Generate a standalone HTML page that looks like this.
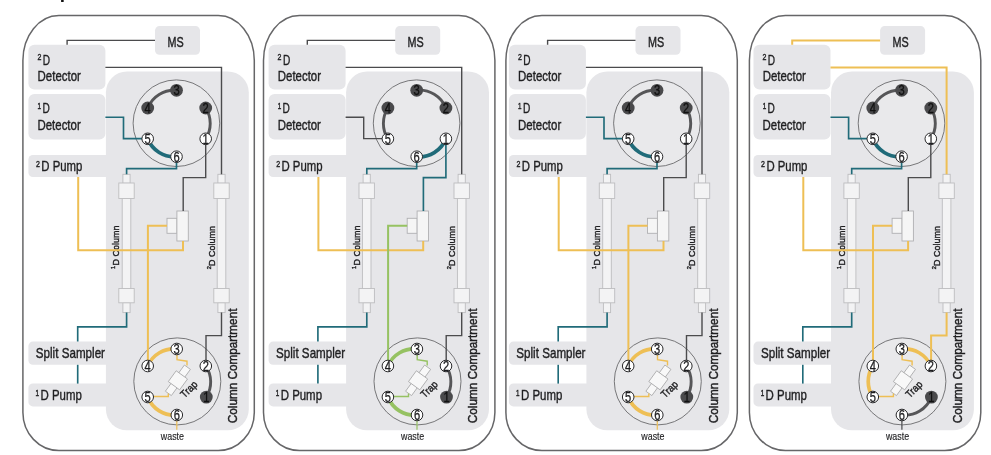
<!DOCTYPE html>
<html lang="en"><head><meta charset="utf-8"><title>2D-LC valve schematic</title>
<style>html,body{margin:0;padding:0;background:#fff}body{width:991px;height:455px;overflow:hidden;font-family:"Liberation Sans", sans-serif}svg{display:block;filter:blur(0.35px)}</style>
</head><body>
<svg width="991" height="455" viewBox="0 0 991 455" font-family='"Liberation Sans", sans-serif'>
<rect width="991" height="455" fill="#fff"/>
<text x="59.8" y="-1.7" font-size="19" font-weight="bold" fill="#111">p</text>
<g transform="translate(0.0 0)">
<path d="M58.9,15.6 H218.3 A36,45 0 0 1 254.3,60.6 V412.5 A36,38 0 0 1 218.3,450.5 H58.9 A36,38 0 0 1 22.9,412.5 V60.6 A36,45 0 0 1 58.9,15.6 Z" fill="#fff" stroke="#666668" stroke-width="1.5"/>
<g fill="#e6e6e9">
<rect x="155" y="26.1" width="45" height="28.6" rx="4.5"/>
<rect x="28.4" y="44.8" width="77" height="44.8" rx="6"/>
<rect x="28.4" y="93.9" width="77" height="45.5" rx="6"/>
<rect x="28.4" y="155" width="100" height="22" rx="4.5"/>
<rect x="28.4" y="341.6" width="100" height="23.2" rx="4.5"/>
<rect x="28.4" y="383.5" width="100" height="22.9" rx="4.5"/>
<rect x="105.9" y="71.5" width="142.9" height="358.8" rx="21"/>
</g>
<circle cx="176.4" cy="123.2" r="43.3" fill="#e9e9eb" stroke="#6a6a6c" stroke-width="0.9"/>
<circle cx="177.3" cy="381.4" r="43.5" fill="#e9e9eb" stroke="#6a6a6c" stroke-width="0.9"/>
<rect x="122.2" y="198" width="8.6" height="91" fill="#f3f3f4" stroke="#bdbdbf" stroke-width="0.9"/><rect x="122.9" y="174.3" width="7.2" height="9" fill="#f3f3f4" stroke="#bdbdbf" stroke-width="0.9"/><rect x="122.9" y="302.6" width="7.2" height="10" fill="#f3f3f4" stroke="#bdbdbf" stroke-width="0.9"/><rect x="118.8" y="183" width="15.4" height="15.5" fill="#f3f3f4" stroke="#bdbdbf" stroke-width="0.9"/><rect x="118.8" y="288.5" width="15.4" height="14.3" fill="#f3f3f4" stroke="#bdbdbf" stroke-width="0.9"/>
<rect x="217.2" y="198" width="8.6" height="91" fill="#f3f3f4" stroke="#bdbdbf" stroke-width="0.9"/><rect x="217.9" y="174.3" width="7.2" height="9" fill="#f3f3f4" stroke="#bdbdbf" stroke-width="0.9"/><rect x="217.9" y="302.6" width="7.2" height="10" fill="#f3f3f4" stroke="#bdbdbf" stroke-width="0.9"/><rect x="213.8" y="183" width="15.4" height="15.5" fill="#f3f3f4" stroke="#bdbdbf" stroke-width="0.9"/><rect x="213.8" y="288.5" width="15.4" height="14.3" fill="#f3f3f4" stroke="#bdbdbf" stroke-width="0.9"/>
<rect x="167" y="218.3" width="10" height="15" fill="#f5f5f5" stroke="#b0b0b2" stroke-width="0.9"/>
<rect x="176.9" y="211" width="11.4" height="30" fill="#f5f5f5" stroke="#b0b0b2" stroke-width="0.9"/>
<text transform="translate(115.4 268.9) rotate(-90)" font-size="5.6" fill="#1f1f21" stroke="#1f1f21" stroke-width="0.4">1</text>
<text transform="translate(119.4 265.6) rotate(-90)" font-size="9.2" textLength="40.0" lengthAdjust="spacingAndGlyphs" fill="#1f1f21" stroke="#1f1f21" stroke-width="0.4">D Column</text>
<text transform="translate(210.5 269.3) rotate(-90)" font-size="5.6" fill="#1f1f21" stroke="#1f1f21" stroke-width="0.4">2</text>
<text transform="translate(214.5 266.0) rotate(-90)" font-size="9.2" textLength="40.0" lengthAdjust="spacingAndGlyphs" fill="#1f1f21" stroke="#1f1f21" stroke-width="0.4">D Column</text>
<path d="M67.1,44.8 V40.4 H155" fill="none" stroke="#4b4b4d" stroke-width="1.4" stroke-linejoin="miter"/>
<path d="M105.4,67.4 H221.5 V174.3" fill="none" stroke="#4b4b4d" stroke-width="1.4" stroke-linejoin="miter"/>
<path d="M105.4,117.2 H123.5 V138.6 H142" fill="none" stroke="#206b79" stroke-width="1.65" stroke-linejoin="miter"/>
<path d="M176.5,162 V168.6 H126.6 V174.3" fill="none" stroke="#206b79" stroke-width="1.65" stroke-linejoin="miter"/>
<path d="M205.7,144 V177.6 H183.2 V211" fill="none" stroke="#4b4b4d" stroke-width="1.4" stroke-linejoin="miter"/>
<path d="M78.2,177 V250.3 H183 V241" fill="none" stroke="#eebf55" stroke-width="2.0" stroke-linejoin="miter"/>
<path d="M167,225.8 H147.9 V361" fill="none" stroke="#eebf55" stroke-width="2.0" stroke-linejoin="miter"/>
<path d="M126.6,312.6 V326.8 H77.7 V341.6" fill="none" stroke="#206b79" stroke-width="1.65" stroke-linejoin="miter"/>
<path d="M77.7,364.8 V383.6" fill="none" stroke="#206b79" stroke-width="1.65" stroke-linejoin="miter"/>
<path d="M221.5,312.6 V335.6 H206 V361" fill="none" stroke="#4b4b4d" stroke-width="1.4" stroke-linejoin="miter"/>
<path d="M176.8,420 V429.8" fill="none" stroke="#eebf55" stroke-width="1.2" stroke-linejoin="miter"/>
<g transform="translate(177.9 380.3) rotate(-54)" fill="#f8f8f8" stroke="#a8a8aa" stroke-width="0.8"><rect x="-16.2" y="-3.7" width="10" height="7.4"/><rect x="6.2" y="-3.7" width="10" height="7.4"/><rect x="-6.7" y="-7" width="13.4" height="14"/></g>
<path d="M177,355 V359.6 L187,361.2 V365.5" fill="none" stroke="#eebf55" stroke-width="1.4" stroke-linejoin="miter"/>
<path d="M153,396.5 H168.3 V393.5" fill="none" stroke="#eebf55" stroke-width="1.4" stroke-linejoin="miter"/>
<text transform="translate(184.6 398.6) rotate(-45)" font-size="10.4" textLength="19.2" lengthAdjust="spacingAndGlyphs" fill="#1f1f21" stroke="#1f1f21" stroke-width="0.4">Trap</text>
<path d="M176.5,90.3 A28.5,28.5 0 0 0 147.7,108.0" fill="none" stroke="#565658" stroke-width="2.9" stroke-linecap="round"/>
<path d="M205.7,108.0 A28.5,28.5 0 0 1 205.7,138.8" fill="none" stroke="#565658" stroke-width="2.9" stroke-linecap="round"/>
<path d="M147.7,138.8 A28.5,28.5 0 0 0 176.5,156.7" fill="none" stroke="#206b79" stroke-width="3.7" stroke-linecap="round"/>
<path d="M176.7,349.0 A28.5,28.5 0 0 0 147.7,366.0" fill="none" stroke="#eebf55" stroke-width="3.7" stroke-linecap="round"/>
<path d="M147.7,397.0 A28.5,28.5 0 0 0 176.8,415.0" fill="none" stroke="#eebf55" stroke-width="3.7" stroke-linecap="round"/>
<path d="M205.8,366.0 A28.5,28.5 0 0 1 206.3,397.1" fill="none" stroke="#565658" stroke-width="2.9" stroke-linecap="round"/>
<circle cx="205.7" cy="138.8" r="5.8" fill="#fff" stroke="#2a2a2c" stroke-width="1"/><text x="205.7" y="143.7" font-size="13.8" text-anchor="middle" textLength="6.2" lengthAdjust="spacingAndGlyphs" fill="#1f1f21" stroke="#1f1f21" stroke-width="0.3">1</text>
<circle cx="206.3" cy="397.1" r="6.3999999999999995" fill="#4a4a4c"/><text x="206.3" y="401.9" font-size="13.8" text-anchor="middle" textLength="6.2" lengthAdjust="spacingAndGlyphs" fill="#111" stroke="#111" stroke-width="0.3">1</text>
<circle cx="205.7" cy="108.0" r="6.3999999999999995" fill="#4a4a4c"/><text x="205.7" y="112.8" font-size="13.8" text-anchor="middle" textLength="6.2" lengthAdjust="spacingAndGlyphs" fill="#111" stroke="#111" stroke-width="0.3">2</text>
<circle cx="205.8" cy="366.0" r="5.8" fill="#fff" stroke="#2a2a2c" stroke-width="1"/><text x="205.8" y="370.9" font-size="13.8" text-anchor="middle" textLength="6.2" lengthAdjust="spacingAndGlyphs" fill="#1f1f21" stroke="#1f1f21" stroke-width="0.3">2</text>
<circle cx="176.5" cy="90.3" r="6.3999999999999995" fill="#4a4a4c"/><text x="176.5" y="95.1" font-size="13.8" text-anchor="middle" textLength="6.2" lengthAdjust="spacingAndGlyphs" fill="#111" stroke="#111" stroke-width="0.3">3</text>
<circle cx="176.7" cy="349.0" r="5.8" fill="#fff" stroke="#2a2a2c" stroke-width="1"/><text x="176.7" y="353.9" font-size="13.8" text-anchor="middle" textLength="6.2" lengthAdjust="spacingAndGlyphs" fill="#1f1f21" stroke="#1f1f21" stroke-width="0.3">3</text>
<circle cx="147.7" cy="108.0" r="6.3999999999999995" fill="#4a4a4c"/><text x="147.7" y="112.8" font-size="13.8" text-anchor="middle" textLength="6.2" lengthAdjust="spacingAndGlyphs" fill="#111" stroke="#111" stroke-width="0.3">4</text>
<circle cx="147.7" cy="366.0" r="5.8" fill="#fff" stroke="#2a2a2c" stroke-width="1"/><text x="147.7" y="370.9" font-size="13.8" text-anchor="middle" textLength="6.2" lengthAdjust="spacingAndGlyphs" fill="#1f1f21" stroke="#1f1f21" stroke-width="0.3">4</text>
<circle cx="147.7" cy="138.8" r="5.8" fill="#fff" stroke="#2a2a2c" stroke-width="1"/><text x="147.7" y="143.7" font-size="13.8" text-anchor="middle" textLength="6.2" lengthAdjust="spacingAndGlyphs" fill="#1f1f21" stroke="#1f1f21" stroke-width="0.3">5</text>
<circle cx="147.7" cy="397.0" r="5.8" fill="#fff" stroke="#2a2a2c" stroke-width="1"/><text x="147.7" y="401.9" font-size="13.8" text-anchor="middle" textLength="6.2" lengthAdjust="spacingAndGlyphs" fill="#1f1f21" stroke="#1f1f21" stroke-width="0.3">5</text>
<circle cx="176.5" cy="156.7" r="5.8" fill="#fff" stroke="#2a2a2c" stroke-width="1"/><text x="176.5" y="161.5" font-size="13.8" text-anchor="middle" textLength="6.2" lengthAdjust="spacingAndGlyphs" fill="#1f1f21" stroke="#1f1f21" stroke-width="0.3">6</text>
<circle cx="176.8" cy="415.0" r="5.8" fill="#fff" stroke="#2a2a2c" stroke-width="1"/><text x="176.8" y="419.9" font-size="13.8" text-anchor="middle" textLength="6.2" lengthAdjust="spacingAndGlyphs" fill="#1f1f21" stroke="#1f1f21" stroke-width="0.3">6</text>
<text x="167.4" y="46.7" font-size="14.8" textLength="16.2" lengthAdjust="spacingAndGlyphs" fill="#1f1f21" stroke="#1f1f21" stroke-width="0.4">MS</text>
<text x="37.4" y="60.4" font-size="8.8" textLength="3.9" lengthAdjust="spacingAndGlyphs" fill="#1f1f21" stroke="#1f1f21" stroke-width="0.4">2</text>
<text x="42.7" y="64.8" font-size="14.8" textLength="7.3" lengthAdjust="spacingAndGlyphs" fill="#1f1f21" stroke="#1f1f21" stroke-width="0.4">D</text>
<text x="37.6" y="81.0" font-size="14.8" textLength="43.2" lengthAdjust="spacingAndGlyphs" fill="#1f1f21" stroke="#1f1f21" stroke-width="0.4">Detector</text>
<text x="37.6" y="109.0" font-size="8.8" textLength="3.5" lengthAdjust="spacingAndGlyphs" fill="#1f1f21" stroke="#1f1f21" stroke-width="0.4">1</text>
<text x="42.4" y="113.4" font-size="14.8" textLength="7.3" lengthAdjust="spacingAndGlyphs" fill="#1f1f21" stroke="#1f1f21" stroke-width="0.4">D</text>
<text x="37.5" y="130.0" font-size="14.8" textLength="43.2" lengthAdjust="spacingAndGlyphs" fill="#1f1f21" stroke="#1f1f21" stroke-width="0.4">Detector</text>
<text x="36.0" y="166.8" font-size="8.8" textLength="3.9" lengthAdjust="spacingAndGlyphs" fill="#1f1f21" stroke="#1f1f21" stroke-width="0.4">2</text>
<text x="41.3" y="171.3" font-size="14.8" textLength="41.0" lengthAdjust="spacingAndGlyphs" fill="#1f1f21" stroke="#1f1f21" stroke-width="0.4">D Pump</text>
<text x="35.8" y="357.9" font-size="14.8" textLength="69.2" lengthAdjust="spacingAndGlyphs" fill="#1f1f21" stroke="#1f1f21" stroke-width="0.4">Split Sampler</text>
<text x="35.6" y="395.5" font-size="8.8" textLength="3.5" lengthAdjust="spacingAndGlyphs" fill="#1f1f21" stroke="#1f1f21" stroke-width="0.4">1</text>
<text x="40.5" y="399.9" font-size="14.8" textLength="41.3" lengthAdjust="spacingAndGlyphs" fill="#1f1f21" stroke="#1f1f21" stroke-width="0.4">D Pump</text>
<text x="160.8" y="440.3" font-size="11.2" textLength="23.2" lengthAdjust="spacingAndGlyphs" fill="#1f1f21" stroke="#1f1f21" stroke-width="0.15">waste</text>
<text transform="translate(237.2 423.2) rotate(-90)" font-size="13.5" textLength="114.6" lengthAdjust="spacingAndGlyphs" fill="#1f1f21" stroke="#1f1f21" stroke-width="0.45">Column Compartment</text>
</g>
<g transform="translate(240.2 0)">
<path d="M59.3,15.6 H218.7 A36,45 0 0 1 254.7,60.6 V412.5 A36,38 0 0 1 218.7,450.5 H59.3 A36,38 0 0 1 23.3,412.5 V60.6 A36,45 0 0 1 59.3,15.6 Z" fill="#fff" stroke="#666668" stroke-width="1.5"/>
<g fill="#e6e6e9">
<rect x="155" y="26.1" width="45" height="28.6" rx="4.5"/>
<rect x="28.4" y="44.8" width="77" height="44.8" rx="6"/>
<rect x="28.4" y="93.9" width="77" height="45.5" rx="6"/>
<rect x="28.4" y="155" width="100" height="22" rx="4.5"/>
<rect x="28.4" y="341.6" width="100" height="23.2" rx="4.5"/>
<rect x="28.4" y="383.5" width="100" height="22.9" rx="4.5"/>
<rect x="105.9" y="71.5" width="142.9" height="358.8" rx="21"/>
</g>
<circle cx="176.4" cy="123.2" r="43.3" fill="#e9e9eb" stroke="#6a6a6c" stroke-width="0.9"/>
<circle cx="177.3" cy="381.4" r="43.5" fill="#e9e9eb" stroke="#6a6a6c" stroke-width="0.9"/>
<rect x="122.2" y="198" width="8.6" height="91" fill="#f3f3f4" stroke="#bdbdbf" stroke-width="0.9"/><rect x="122.9" y="174.3" width="7.2" height="9" fill="#f3f3f4" stroke="#bdbdbf" stroke-width="0.9"/><rect x="122.9" y="302.6" width="7.2" height="10" fill="#f3f3f4" stroke="#bdbdbf" stroke-width="0.9"/><rect x="118.8" y="183" width="15.4" height="15.5" fill="#f3f3f4" stroke="#bdbdbf" stroke-width="0.9"/><rect x="118.8" y="288.5" width="15.4" height="14.3" fill="#f3f3f4" stroke="#bdbdbf" stroke-width="0.9"/>
<rect x="217.2" y="198" width="8.6" height="91" fill="#f3f3f4" stroke="#bdbdbf" stroke-width="0.9"/><rect x="217.9" y="174.3" width="7.2" height="9" fill="#f3f3f4" stroke="#bdbdbf" stroke-width="0.9"/><rect x="217.9" y="302.6" width="7.2" height="10" fill="#f3f3f4" stroke="#bdbdbf" stroke-width="0.9"/><rect x="213.8" y="183" width="15.4" height="15.5" fill="#f3f3f4" stroke="#bdbdbf" stroke-width="0.9"/><rect x="213.8" y="288.5" width="15.4" height="14.3" fill="#f3f3f4" stroke="#bdbdbf" stroke-width="0.9"/>
<rect x="167" y="218.3" width="10" height="15" fill="#f5f5f5" stroke="#b0b0b2" stroke-width="0.9"/>
<rect x="176.9" y="211" width="11.4" height="30" fill="#f5f5f5" stroke="#b0b0b2" stroke-width="0.9"/>
<text transform="translate(115.4 268.9) rotate(-90)" font-size="5.6" fill="#1f1f21" stroke="#1f1f21" stroke-width="0.4">1</text>
<text transform="translate(119.4 265.6) rotate(-90)" font-size="9.2" textLength="40.0" lengthAdjust="spacingAndGlyphs" fill="#1f1f21" stroke="#1f1f21" stroke-width="0.4">D Column</text>
<text transform="translate(210.5 269.3) rotate(-90)" font-size="5.6" fill="#1f1f21" stroke="#1f1f21" stroke-width="0.4">2</text>
<text transform="translate(214.5 266.0) rotate(-90)" font-size="9.2" textLength="40.0" lengthAdjust="spacingAndGlyphs" fill="#1f1f21" stroke="#1f1f21" stroke-width="0.4">D Column</text>
<path d="M67.1,44.8 V40.4 H155" fill="none" stroke="#4b4b4d" stroke-width="1.4" stroke-linejoin="miter"/>
<path d="M105.4,67.4 H221.5 V174.3" fill="none" stroke="#4b4b4d" stroke-width="1.4" stroke-linejoin="miter"/>
<path d="M105.4,117.2 H123.5 V138.6 H142" fill="none" stroke="#4b4b4d" stroke-width="1.4" stroke-linejoin="miter"/>
<path d="M176.5,162 V168.6 H126.6 V174.3" fill="none" stroke="#206b79" stroke-width="1.65" stroke-linejoin="miter"/>
<path d="M205.7,144 V177.6 H183.2 V211" fill="none" stroke="#206b79" stroke-width="1.65" stroke-linejoin="miter"/>
<path d="M78.2,177 V250.3 H183 V241" fill="none" stroke="#eebf55" stroke-width="2.0" stroke-linejoin="miter"/>
<path d="M167,225.8 H147.9 V361" fill="none" stroke="#96c262" stroke-width="2.0" stroke-linejoin="miter"/>
<path d="M126.6,312.6 V326.8 H77.7 V341.6" fill="none" stroke="#206b79" stroke-width="1.65" stroke-linejoin="miter"/>
<path d="M77.7,364.8 V383.6" fill="none" stroke="#206b79" stroke-width="1.65" stroke-linejoin="miter"/>
<path d="M221.5,312.6 V335.6 H206 V361" fill="none" stroke="#4b4b4d" stroke-width="1.4" stroke-linejoin="miter"/>
<path d="M176.8,420 V429.8" fill="none" stroke="#96c262" stroke-width="1.2" stroke-linejoin="miter"/>
<g transform="translate(177.9 380.3) rotate(-54)" fill="#f8f8f8" stroke="#a8a8aa" stroke-width="0.8"><rect x="-16.2" y="-3.7" width="10" height="7.4"/><rect x="6.2" y="-3.7" width="10" height="7.4"/><rect x="-6.7" y="-7" width="13.4" height="14"/></g>
<path d="M177,355 V359.6 L187,361.2 V365.5" fill="none" stroke="#96c262" stroke-width="1.4" stroke-linejoin="miter"/>
<path d="M153,396.5 H168.3 V393.5" fill="none" stroke="#96c262" stroke-width="1.4" stroke-linejoin="miter"/>
<text transform="translate(184.6 398.6) rotate(-45)" font-size="10.4" textLength="19.2" lengthAdjust="spacingAndGlyphs" fill="#1f1f21" stroke="#1f1f21" stroke-width="0.4">Trap</text>
<path d="M176.5,90.3 A28.5,28.5 0 0 1 205.7,108.0" fill="none" stroke="#565658" stroke-width="2.9" stroke-linecap="round"/>
<path d="M147.7,108.0 A28.5,28.5 0 0 0 147.7,138.8" fill="none" stroke="#565658" stroke-width="2.9" stroke-linecap="round"/>
<path d="M176.5,156.7 A28.5,28.5 0 0 0 205.7,138.8" fill="none" stroke="#206b79" stroke-width="3.7" stroke-linecap="round"/>
<path d="M176.7,349.0 A28.5,28.5 0 0 0 147.7,366.0" fill="none" stroke="#96c262" stroke-width="3.7" stroke-linecap="round"/>
<path d="M147.7,397.0 A28.5,28.5 0 0 0 176.8,415.0" fill="none" stroke="#96c262" stroke-width="3.7" stroke-linecap="round"/>
<path d="M205.8,366.0 A28.5,28.5 0 0 1 206.3,397.1" fill="none" stroke="#565658" stroke-width="2.9" stroke-linecap="round"/>
<circle cx="205.7" cy="138.8" r="5.8" fill="#fff" stroke="#2a2a2c" stroke-width="1"/><text x="205.7" y="143.7" font-size="13.8" text-anchor="middle" textLength="6.2" lengthAdjust="spacingAndGlyphs" fill="#1f1f21" stroke="#1f1f21" stroke-width="0.3">1</text>
<circle cx="206.3" cy="397.1" r="6.3999999999999995" fill="#4a4a4c"/><text x="206.3" y="401.9" font-size="13.8" text-anchor="middle" textLength="6.2" lengthAdjust="spacingAndGlyphs" fill="#111" stroke="#111" stroke-width="0.3">1</text>
<circle cx="205.7" cy="108.0" r="6.3999999999999995" fill="#4a4a4c"/><text x="205.7" y="112.8" font-size="13.8" text-anchor="middle" textLength="6.2" lengthAdjust="spacingAndGlyphs" fill="#111" stroke="#111" stroke-width="0.3">2</text>
<circle cx="205.8" cy="366.0" r="5.8" fill="#fff" stroke="#2a2a2c" stroke-width="1"/><text x="205.8" y="370.9" font-size="13.8" text-anchor="middle" textLength="6.2" lengthAdjust="spacingAndGlyphs" fill="#1f1f21" stroke="#1f1f21" stroke-width="0.3">2</text>
<circle cx="176.5" cy="90.3" r="6.3999999999999995" fill="#4a4a4c"/><text x="176.5" y="95.1" font-size="13.8" text-anchor="middle" textLength="6.2" lengthAdjust="spacingAndGlyphs" fill="#111" stroke="#111" stroke-width="0.3">3</text>
<circle cx="176.7" cy="349.0" r="5.8" fill="#fff" stroke="#2a2a2c" stroke-width="1"/><text x="176.7" y="353.9" font-size="13.8" text-anchor="middle" textLength="6.2" lengthAdjust="spacingAndGlyphs" fill="#1f1f21" stroke="#1f1f21" stroke-width="0.3">3</text>
<circle cx="147.7" cy="108.0" r="6.3999999999999995" fill="#4a4a4c"/><text x="147.7" y="112.8" font-size="13.8" text-anchor="middle" textLength="6.2" lengthAdjust="spacingAndGlyphs" fill="#111" stroke="#111" stroke-width="0.3">4</text>
<circle cx="147.7" cy="366.0" r="5.8" fill="#fff" stroke="#2a2a2c" stroke-width="1"/><text x="147.7" y="370.9" font-size="13.8" text-anchor="middle" textLength="6.2" lengthAdjust="spacingAndGlyphs" fill="#1f1f21" stroke="#1f1f21" stroke-width="0.3">4</text>
<circle cx="147.7" cy="138.8" r="5.8" fill="#fff" stroke="#2a2a2c" stroke-width="1"/><text x="147.7" y="143.7" font-size="13.8" text-anchor="middle" textLength="6.2" lengthAdjust="spacingAndGlyphs" fill="#1f1f21" stroke="#1f1f21" stroke-width="0.3">5</text>
<circle cx="147.7" cy="397.0" r="5.8" fill="#fff" stroke="#2a2a2c" stroke-width="1"/><text x="147.7" y="401.9" font-size="13.8" text-anchor="middle" textLength="6.2" lengthAdjust="spacingAndGlyphs" fill="#1f1f21" stroke="#1f1f21" stroke-width="0.3">5</text>
<circle cx="176.5" cy="156.7" r="5.8" fill="#fff" stroke="#2a2a2c" stroke-width="1"/><text x="176.5" y="161.5" font-size="13.8" text-anchor="middle" textLength="6.2" lengthAdjust="spacingAndGlyphs" fill="#1f1f21" stroke="#1f1f21" stroke-width="0.3">6</text>
<circle cx="176.8" cy="415.0" r="5.8" fill="#fff" stroke="#2a2a2c" stroke-width="1"/><text x="176.8" y="419.9" font-size="13.8" text-anchor="middle" textLength="6.2" lengthAdjust="spacingAndGlyphs" fill="#1f1f21" stroke="#1f1f21" stroke-width="0.3">6</text>
<text x="167.4" y="46.7" font-size="14.8" textLength="16.2" lengthAdjust="spacingAndGlyphs" fill="#1f1f21" stroke="#1f1f21" stroke-width="0.4">MS</text>
<text x="37.4" y="60.4" font-size="8.8" textLength="3.9" lengthAdjust="spacingAndGlyphs" fill="#1f1f21" stroke="#1f1f21" stroke-width="0.4">2</text>
<text x="42.7" y="64.8" font-size="14.8" textLength="7.3" lengthAdjust="spacingAndGlyphs" fill="#1f1f21" stroke="#1f1f21" stroke-width="0.4">D</text>
<text x="37.6" y="81.0" font-size="14.8" textLength="43.2" lengthAdjust="spacingAndGlyphs" fill="#1f1f21" stroke="#1f1f21" stroke-width="0.4">Detector</text>
<text x="37.6" y="109.0" font-size="8.8" textLength="3.5" lengthAdjust="spacingAndGlyphs" fill="#1f1f21" stroke="#1f1f21" stroke-width="0.4">1</text>
<text x="42.4" y="113.4" font-size="14.8" textLength="7.3" lengthAdjust="spacingAndGlyphs" fill="#1f1f21" stroke="#1f1f21" stroke-width="0.4">D</text>
<text x="37.5" y="130.0" font-size="14.8" textLength="43.2" lengthAdjust="spacingAndGlyphs" fill="#1f1f21" stroke="#1f1f21" stroke-width="0.4">Detector</text>
<text x="36.0" y="166.8" font-size="8.8" textLength="3.9" lengthAdjust="spacingAndGlyphs" fill="#1f1f21" stroke="#1f1f21" stroke-width="0.4">2</text>
<text x="41.3" y="171.3" font-size="14.8" textLength="41.0" lengthAdjust="spacingAndGlyphs" fill="#1f1f21" stroke="#1f1f21" stroke-width="0.4">D Pump</text>
<text x="35.8" y="357.9" font-size="14.8" textLength="69.2" lengthAdjust="spacingAndGlyphs" fill="#1f1f21" stroke="#1f1f21" stroke-width="0.4">Split Sampler</text>
<text x="35.6" y="395.5" font-size="8.8" textLength="3.5" lengthAdjust="spacingAndGlyphs" fill="#1f1f21" stroke="#1f1f21" stroke-width="0.4">1</text>
<text x="40.5" y="399.9" font-size="14.8" textLength="41.3" lengthAdjust="spacingAndGlyphs" fill="#1f1f21" stroke="#1f1f21" stroke-width="0.4">D Pump</text>
<text x="160.8" y="440.3" font-size="11.2" textLength="23.2" lengthAdjust="spacingAndGlyphs" fill="#1f1f21" stroke="#1f1f21" stroke-width="0.15">waste</text>
<text transform="translate(237.2 423.2) rotate(-90)" font-size="13.5" textLength="114.6" lengthAdjust="spacingAndGlyphs" fill="#1f1f21" stroke="#1f1f21" stroke-width="0.45">Column Compartment</text>
</g>
<g transform="translate(480.5 0)">
<path d="M61.4,15.6 H220.8 A36,45 0 0 1 256.8,60.6 V412.5 A36,38 0 0 1 220.8,450.5 H61.4 A36,38 0 0 1 25.4,412.5 V60.6 A36,45 0 0 1 61.4,15.6 Z" fill="#fff" stroke="#666668" stroke-width="1.5"/>
<g fill="#e6e6e9">
<rect x="155" y="26.1" width="45" height="28.6" rx="4.5"/>
<rect x="28.4" y="44.8" width="77" height="44.8" rx="6"/>
<rect x="28.4" y="93.9" width="77" height="45.5" rx="6"/>
<rect x="28.4" y="155" width="100" height="22" rx="4.5"/>
<rect x="28.4" y="341.6" width="100" height="23.2" rx="4.5"/>
<rect x="28.4" y="383.5" width="100" height="22.9" rx="4.5"/>
<rect x="105.9" y="71.5" width="142.9" height="358.8" rx="21"/>
</g>
<circle cx="176.4" cy="123.2" r="43.3" fill="#e9e9eb" stroke="#6a6a6c" stroke-width="0.9"/>
<circle cx="177.3" cy="381.4" r="43.5" fill="#e9e9eb" stroke="#6a6a6c" stroke-width="0.9"/>
<rect x="122.2" y="198" width="8.6" height="91" fill="#f3f3f4" stroke="#bdbdbf" stroke-width="0.9"/><rect x="122.9" y="174.3" width="7.2" height="9" fill="#f3f3f4" stroke="#bdbdbf" stroke-width="0.9"/><rect x="122.9" y="302.6" width="7.2" height="10" fill="#f3f3f4" stroke="#bdbdbf" stroke-width="0.9"/><rect x="118.8" y="183" width="15.4" height="15.5" fill="#f3f3f4" stroke="#bdbdbf" stroke-width="0.9"/><rect x="118.8" y="288.5" width="15.4" height="14.3" fill="#f3f3f4" stroke="#bdbdbf" stroke-width="0.9"/>
<rect x="217.2" y="198" width="8.6" height="91" fill="#f3f3f4" stroke="#bdbdbf" stroke-width="0.9"/><rect x="217.9" y="174.3" width="7.2" height="9" fill="#f3f3f4" stroke="#bdbdbf" stroke-width="0.9"/><rect x="217.9" y="302.6" width="7.2" height="10" fill="#f3f3f4" stroke="#bdbdbf" stroke-width="0.9"/><rect x="213.8" y="183" width="15.4" height="15.5" fill="#f3f3f4" stroke="#bdbdbf" stroke-width="0.9"/><rect x="213.8" y="288.5" width="15.4" height="14.3" fill="#f3f3f4" stroke="#bdbdbf" stroke-width="0.9"/>
<rect x="167" y="218.3" width="10" height="15" fill="#f5f5f5" stroke="#b0b0b2" stroke-width="0.9"/>
<rect x="176.9" y="211" width="11.4" height="30" fill="#f5f5f5" stroke="#b0b0b2" stroke-width="0.9"/>
<text transform="translate(115.4 268.9) rotate(-90)" font-size="5.6" fill="#1f1f21" stroke="#1f1f21" stroke-width="0.4">1</text>
<text transform="translate(119.4 265.6) rotate(-90)" font-size="9.2" textLength="40.0" lengthAdjust="spacingAndGlyphs" fill="#1f1f21" stroke="#1f1f21" stroke-width="0.4">D Column</text>
<text transform="translate(210.5 269.3) rotate(-90)" font-size="5.6" fill="#1f1f21" stroke="#1f1f21" stroke-width="0.4">2</text>
<text transform="translate(214.5 266.0) rotate(-90)" font-size="9.2" textLength="40.0" lengthAdjust="spacingAndGlyphs" fill="#1f1f21" stroke="#1f1f21" stroke-width="0.4">D Column</text>
<path d="M67.1,44.8 V40.4 H155" fill="none" stroke="#4b4b4d" stroke-width="1.4" stroke-linejoin="miter"/>
<path d="M105.4,67.4 H221.5 V174.3" fill="none" stroke="#4b4b4d" stroke-width="1.4" stroke-linejoin="miter"/>
<path d="M105.4,117.2 H123.5 V138.6 H142" fill="none" stroke="#206b79" stroke-width="1.65" stroke-linejoin="miter"/>
<path d="M176.5,162 V168.6 H126.6 V174.3" fill="none" stroke="#206b79" stroke-width="1.65" stroke-linejoin="miter"/>
<path d="M205.7,144 V177.6 H183.2 V211" fill="none" stroke="#4b4b4d" stroke-width="1.4" stroke-linejoin="miter"/>
<path d="M78.2,177 V250.3 H183 V241" fill="none" stroke="#eebf55" stroke-width="2.0" stroke-linejoin="miter"/>
<path d="M167,225.8 H147.9 V361" fill="none" stroke="#eebf55" stroke-width="2.0" stroke-linejoin="miter"/>
<path d="M126.6,312.6 V326.8 H77.7 V341.6" fill="none" stroke="#206b79" stroke-width="1.65" stroke-linejoin="miter"/>
<path d="M77.7,364.8 V383.6" fill="none" stroke="#206b79" stroke-width="1.65" stroke-linejoin="miter"/>
<path d="M221.5,312.6 V335.6 H206 V361" fill="none" stroke="#4b4b4d" stroke-width="1.4" stroke-linejoin="miter"/>
<path d="M176.8,420 V429.8" fill="none" stroke="#eebf55" stroke-width="1.2" stroke-linejoin="miter"/>
<g transform="translate(177.9 380.3) rotate(-54)" fill="#f8f8f8" stroke="#a8a8aa" stroke-width="0.8"><rect x="-16.2" y="-3.7" width="10" height="7.4"/><rect x="6.2" y="-3.7" width="10" height="7.4"/><rect x="-6.7" y="-7" width="13.4" height="14"/></g>
<path d="M177,355 V359.6 L187,361.2 V365.5" fill="none" stroke="#eebf55" stroke-width="1.4" stroke-linejoin="miter"/>
<path d="M153,396.5 H168.3 V393.5" fill="none" stroke="#eebf55" stroke-width="1.4" stroke-linejoin="miter"/>
<text transform="translate(184.6 398.6) rotate(-45)" font-size="10.4" textLength="19.2" lengthAdjust="spacingAndGlyphs" fill="#1f1f21" stroke="#1f1f21" stroke-width="0.4">Trap</text>
<path d="M176.5,90.3 A28.5,28.5 0 0 0 147.7,108.0" fill="none" stroke="#565658" stroke-width="2.9" stroke-linecap="round"/>
<path d="M205.7,108.0 A28.5,28.5 0 0 1 205.7,138.8" fill="none" stroke="#565658" stroke-width="2.9" stroke-linecap="round"/>
<path d="M147.7,138.8 A28.5,28.5 0 0 0 176.5,156.7" fill="none" stroke="#206b79" stroke-width="3.7" stroke-linecap="round"/>
<path d="M176.7,349.0 A28.5,28.5 0 0 0 147.7,366.0" fill="none" stroke="#eebf55" stroke-width="3.7" stroke-linecap="round"/>
<path d="M147.7,397.0 A28.5,28.5 0 0 0 176.8,415.0" fill="none" stroke="#eebf55" stroke-width="3.7" stroke-linecap="round"/>
<path d="M205.8,366.0 A28.5,28.5 0 0 1 206.3,397.1" fill="none" stroke="#565658" stroke-width="2.9" stroke-linecap="round"/>
<circle cx="205.7" cy="138.8" r="5.8" fill="#fff" stroke="#2a2a2c" stroke-width="1"/><text x="205.7" y="143.7" font-size="13.8" text-anchor="middle" textLength="6.2" lengthAdjust="spacingAndGlyphs" fill="#1f1f21" stroke="#1f1f21" stroke-width="0.3">1</text>
<circle cx="206.3" cy="397.1" r="6.3999999999999995" fill="#4a4a4c"/><text x="206.3" y="401.9" font-size="13.8" text-anchor="middle" textLength="6.2" lengthAdjust="spacingAndGlyphs" fill="#111" stroke="#111" stroke-width="0.3">1</text>
<circle cx="205.7" cy="108.0" r="6.3999999999999995" fill="#4a4a4c"/><text x="205.7" y="112.8" font-size="13.8" text-anchor="middle" textLength="6.2" lengthAdjust="spacingAndGlyphs" fill="#111" stroke="#111" stroke-width="0.3">2</text>
<circle cx="205.8" cy="366.0" r="5.8" fill="#fff" stroke="#2a2a2c" stroke-width="1"/><text x="205.8" y="370.9" font-size="13.8" text-anchor="middle" textLength="6.2" lengthAdjust="spacingAndGlyphs" fill="#1f1f21" stroke="#1f1f21" stroke-width="0.3">2</text>
<circle cx="176.5" cy="90.3" r="6.3999999999999995" fill="#4a4a4c"/><text x="176.5" y="95.1" font-size="13.8" text-anchor="middle" textLength="6.2" lengthAdjust="spacingAndGlyphs" fill="#111" stroke="#111" stroke-width="0.3">3</text>
<circle cx="176.7" cy="349.0" r="5.8" fill="#fff" stroke="#2a2a2c" stroke-width="1"/><text x="176.7" y="353.9" font-size="13.8" text-anchor="middle" textLength="6.2" lengthAdjust="spacingAndGlyphs" fill="#1f1f21" stroke="#1f1f21" stroke-width="0.3">3</text>
<circle cx="147.7" cy="108.0" r="6.3999999999999995" fill="#4a4a4c"/><text x="147.7" y="112.8" font-size="13.8" text-anchor="middle" textLength="6.2" lengthAdjust="spacingAndGlyphs" fill="#111" stroke="#111" stroke-width="0.3">4</text>
<circle cx="147.7" cy="366.0" r="5.8" fill="#fff" stroke="#2a2a2c" stroke-width="1"/><text x="147.7" y="370.9" font-size="13.8" text-anchor="middle" textLength="6.2" lengthAdjust="spacingAndGlyphs" fill="#1f1f21" stroke="#1f1f21" stroke-width="0.3">4</text>
<circle cx="147.7" cy="138.8" r="5.8" fill="#fff" stroke="#2a2a2c" stroke-width="1"/><text x="147.7" y="143.7" font-size="13.8" text-anchor="middle" textLength="6.2" lengthAdjust="spacingAndGlyphs" fill="#1f1f21" stroke="#1f1f21" stroke-width="0.3">5</text>
<circle cx="147.7" cy="397.0" r="5.8" fill="#fff" stroke="#2a2a2c" stroke-width="1"/><text x="147.7" y="401.9" font-size="13.8" text-anchor="middle" textLength="6.2" lengthAdjust="spacingAndGlyphs" fill="#1f1f21" stroke="#1f1f21" stroke-width="0.3">5</text>
<circle cx="176.5" cy="156.7" r="5.8" fill="#fff" stroke="#2a2a2c" stroke-width="1"/><text x="176.5" y="161.5" font-size="13.8" text-anchor="middle" textLength="6.2" lengthAdjust="spacingAndGlyphs" fill="#1f1f21" stroke="#1f1f21" stroke-width="0.3">6</text>
<circle cx="176.8" cy="415.0" r="5.8" fill="#fff" stroke="#2a2a2c" stroke-width="1"/><text x="176.8" y="419.9" font-size="13.8" text-anchor="middle" textLength="6.2" lengthAdjust="spacingAndGlyphs" fill="#1f1f21" stroke="#1f1f21" stroke-width="0.3">6</text>
<text x="167.4" y="46.7" font-size="14.8" textLength="16.2" lengthAdjust="spacingAndGlyphs" fill="#1f1f21" stroke="#1f1f21" stroke-width="0.4">MS</text>
<text x="37.4" y="60.4" font-size="8.8" textLength="3.9" lengthAdjust="spacingAndGlyphs" fill="#1f1f21" stroke="#1f1f21" stroke-width="0.4">2</text>
<text x="42.7" y="64.8" font-size="14.8" textLength="7.3" lengthAdjust="spacingAndGlyphs" fill="#1f1f21" stroke="#1f1f21" stroke-width="0.4">D</text>
<text x="37.6" y="81.0" font-size="14.8" textLength="43.2" lengthAdjust="spacingAndGlyphs" fill="#1f1f21" stroke="#1f1f21" stroke-width="0.4">Detector</text>
<text x="37.6" y="109.0" font-size="8.8" textLength="3.5" lengthAdjust="spacingAndGlyphs" fill="#1f1f21" stroke="#1f1f21" stroke-width="0.4">1</text>
<text x="42.4" y="113.4" font-size="14.8" textLength="7.3" lengthAdjust="spacingAndGlyphs" fill="#1f1f21" stroke="#1f1f21" stroke-width="0.4">D</text>
<text x="37.5" y="130.0" font-size="14.8" textLength="43.2" lengthAdjust="spacingAndGlyphs" fill="#1f1f21" stroke="#1f1f21" stroke-width="0.4">Detector</text>
<text x="36.0" y="166.8" font-size="8.8" textLength="3.9" lengthAdjust="spacingAndGlyphs" fill="#1f1f21" stroke="#1f1f21" stroke-width="0.4">2</text>
<text x="41.3" y="171.3" font-size="14.8" textLength="41.0" lengthAdjust="spacingAndGlyphs" fill="#1f1f21" stroke="#1f1f21" stroke-width="0.4">D Pump</text>
<text x="35.8" y="357.9" font-size="14.8" textLength="69.2" lengthAdjust="spacingAndGlyphs" fill="#1f1f21" stroke="#1f1f21" stroke-width="0.4">Split Sampler</text>
<text x="35.6" y="395.5" font-size="8.8" textLength="3.5" lengthAdjust="spacingAndGlyphs" fill="#1f1f21" stroke="#1f1f21" stroke-width="0.4">1</text>
<text x="40.5" y="399.9" font-size="14.8" textLength="41.3" lengthAdjust="spacingAndGlyphs" fill="#1f1f21" stroke="#1f1f21" stroke-width="0.4">D Pump</text>
<text x="160.8" y="440.3" font-size="11.2" textLength="23.2" lengthAdjust="spacingAndGlyphs" fill="#1f1f21" stroke="#1f1f21" stroke-width="0.15">waste</text>
<text transform="translate(237.2 423.2) rotate(-90)" font-size="13.5" textLength="114.6" lengthAdjust="spacingAndGlyphs" fill="#1f1f21" stroke="#1f1f21" stroke-width="0.45">Column Compartment</text>
</g>
<g transform="translate(725.1 0)">
<path d="M60.3,15.6 H219.7 A36,45 0 0 1 255.7,60.6 V412.5 A36,38 0 0 1 219.7,450.5 H60.3 A36,38 0 0 1 24.3,412.5 V60.6 A36,45 0 0 1 60.3,15.6 Z" fill="#fff" stroke="#666668" stroke-width="1.5"/>
<g fill="#e6e6e9">
<rect x="155" y="26.1" width="45" height="28.6" rx="4.5"/>
<rect x="28.4" y="44.8" width="77" height="44.8" rx="6"/>
<rect x="28.4" y="93.9" width="77" height="45.5" rx="6"/>
<rect x="28.4" y="155" width="100" height="22" rx="4.5"/>
<rect x="28.4" y="341.6" width="100" height="23.2" rx="4.5"/>
<rect x="28.4" y="383.5" width="100" height="22.9" rx="4.5"/>
<rect x="105.9" y="71.5" width="142.9" height="358.8" rx="21"/>
</g>
<circle cx="176.4" cy="123.2" r="43.3" fill="#e9e9eb" stroke="#6a6a6c" stroke-width="0.9"/>
<circle cx="177.3" cy="381.4" r="43.5" fill="#e9e9eb" stroke="#6a6a6c" stroke-width="0.9"/>
<rect x="122.2" y="198" width="8.6" height="91" fill="#f3f3f4" stroke="#bdbdbf" stroke-width="0.9"/><rect x="122.9" y="174.3" width="7.2" height="9" fill="#f3f3f4" stroke="#bdbdbf" stroke-width="0.9"/><rect x="122.9" y="302.6" width="7.2" height="10" fill="#f3f3f4" stroke="#bdbdbf" stroke-width="0.9"/><rect x="118.8" y="183" width="15.4" height="15.5" fill="#f3f3f4" stroke="#bdbdbf" stroke-width="0.9"/><rect x="118.8" y="288.5" width="15.4" height="14.3" fill="#f3f3f4" stroke="#bdbdbf" stroke-width="0.9"/>
<rect x="217.2" y="198" width="8.6" height="91" fill="#f3f3f4" stroke="#bdbdbf" stroke-width="0.9"/><rect x="217.9" y="174.3" width="7.2" height="9" fill="#f3f3f4" stroke="#bdbdbf" stroke-width="0.9"/><rect x="217.9" y="302.6" width="7.2" height="10" fill="#f3f3f4" stroke="#bdbdbf" stroke-width="0.9"/><rect x="213.8" y="183" width="15.4" height="15.5" fill="#f3f3f4" stroke="#bdbdbf" stroke-width="0.9"/><rect x="213.8" y="288.5" width="15.4" height="14.3" fill="#f3f3f4" stroke="#bdbdbf" stroke-width="0.9"/>
<rect x="167" y="218.3" width="10" height="15" fill="#f5f5f5" stroke="#b0b0b2" stroke-width="0.9"/>
<rect x="176.9" y="211" width="11.4" height="30" fill="#f5f5f5" stroke="#b0b0b2" stroke-width="0.9"/>
<text transform="translate(115.4 268.9) rotate(-90)" font-size="5.6" fill="#1f1f21" stroke="#1f1f21" stroke-width="0.4">1</text>
<text transform="translate(119.4 265.6) rotate(-90)" font-size="9.2" textLength="40.0" lengthAdjust="spacingAndGlyphs" fill="#1f1f21" stroke="#1f1f21" stroke-width="0.4">D Column</text>
<text transform="translate(210.5 269.3) rotate(-90)" font-size="5.6" fill="#1f1f21" stroke="#1f1f21" stroke-width="0.4">2</text>
<text transform="translate(214.5 266.0) rotate(-90)" font-size="9.2" textLength="40.0" lengthAdjust="spacingAndGlyphs" fill="#1f1f21" stroke="#1f1f21" stroke-width="0.4">D Column</text>
<path d="M67.1,44.8 V40.4 H155" fill="none" stroke="#eebf55" stroke-width="2.0" stroke-linejoin="miter"/>
<path d="M105.4,67.4 H221.5 V174.3" fill="none" stroke="#eebf55" stroke-width="2.0" stroke-linejoin="miter"/>
<path d="M105.4,117.2 H123.5 V138.6 H142" fill="none" stroke="#206b79" stroke-width="1.65" stroke-linejoin="miter"/>
<path d="M176.5,162 V168.6 H126.6 V174.3" fill="none" stroke="#206b79" stroke-width="1.65" stroke-linejoin="miter"/>
<path d="M205.7,144 V177.6 H183.2 V211" fill="none" stroke="#4b4b4d" stroke-width="1.4" stroke-linejoin="miter"/>
<path d="M78.2,177 V250.3 H183 V241" fill="none" stroke="#eebf55" stroke-width="2.0" stroke-linejoin="miter"/>
<path d="M167,225.8 H147.9 V361" fill="none" stroke="#eebf55" stroke-width="2.0" stroke-linejoin="miter"/>
<path d="M126.6,312.6 V326.8 H77.7 V341.6" fill="none" stroke="#206b79" stroke-width="1.65" stroke-linejoin="miter"/>
<path d="M77.7,364.8 V383.6" fill="none" stroke="#206b79" stroke-width="1.65" stroke-linejoin="miter"/>
<path d="M221.5,312.6 V335.6 H206 V361" fill="none" stroke="#eebf55" stroke-width="2.0" stroke-linejoin="miter"/>
<path d="M176.8,420 V429.8" fill="none" stroke="#4b4b4d" stroke-width="1.2" stroke-linejoin="miter"/>
<g transform="translate(177.9 380.3) rotate(-54)" fill="#f8f8f8" stroke="#a8a8aa" stroke-width="0.8"><rect x="-16.2" y="-3.7" width="10" height="7.4"/><rect x="6.2" y="-3.7" width="10" height="7.4"/><rect x="-6.7" y="-7" width="13.4" height="14"/></g>
<path d="M177,355 V359.6 L187,361.2 V365.5" fill="none" stroke="#eebf55" stroke-width="1.4" stroke-linejoin="miter"/>
<path d="M153,396.5 H168.3 V393.5" fill="none" stroke="#eebf55" stroke-width="1.4" stroke-linejoin="miter"/>
<text transform="translate(184.6 398.6) rotate(-45)" font-size="10.4" textLength="19.2" lengthAdjust="spacingAndGlyphs" fill="#1f1f21" stroke="#1f1f21" stroke-width="0.4">Trap</text>
<path d="M176.5,90.3 A28.5,28.5 0 0 0 147.7,108.0" fill="none" stroke="#565658" stroke-width="2.9" stroke-linecap="round"/>
<path d="M205.7,108.0 A28.5,28.5 0 0 1 205.7,138.8" fill="none" stroke="#565658" stroke-width="2.9" stroke-linecap="round"/>
<path d="M147.7,138.8 A28.5,28.5 0 0 0 176.5,156.7" fill="none" stroke="#206b79" stroke-width="3.7" stroke-linecap="round"/>
<path d="M147.7,366.0 A28.5,28.5 0 0 0 147.7,397.0" fill="none" stroke="#eebf55" stroke-width="3.7" stroke-linecap="round"/>
<path d="M176.7,349.0 A28.5,28.5 0 0 1 205.8,366.0" fill="none" stroke="#eebf55" stroke-width="3.7" stroke-linecap="round"/>
<path d="M206.3,397.1 A28.5,28.5 0 0 1 176.8,415.0" fill="none" stroke="#565658" stroke-width="2.9" stroke-linecap="round"/>
<circle cx="205.7" cy="138.8" r="5.8" fill="#fff" stroke="#2a2a2c" stroke-width="1"/><text x="205.7" y="143.7" font-size="13.8" text-anchor="middle" textLength="6.2" lengthAdjust="spacingAndGlyphs" fill="#1f1f21" stroke="#1f1f21" stroke-width="0.3">1</text>
<circle cx="206.3" cy="397.1" r="6.3999999999999995" fill="#4a4a4c"/><text x="206.3" y="401.9" font-size="13.8" text-anchor="middle" textLength="6.2" lengthAdjust="spacingAndGlyphs" fill="#111" stroke="#111" stroke-width="0.3">1</text>
<circle cx="205.7" cy="108.0" r="6.3999999999999995" fill="#4a4a4c"/><text x="205.7" y="112.8" font-size="13.8" text-anchor="middle" textLength="6.2" lengthAdjust="spacingAndGlyphs" fill="#111" stroke="#111" stroke-width="0.3">2</text>
<circle cx="205.8" cy="366.0" r="5.8" fill="#fff" stroke="#2a2a2c" stroke-width="1"/><text x="205.8" y="370.9" font-size="13.8" text-anchor="middle" textLength="6.2" lengthAdjust="spacingAndGlyphs" fill="#1f1f21" stroke="#1f1f21" stroke-width="0.3">2</text>
<circle cx="176.5" cy="90.3" r="6.3999999999999995" fill="#4a4a4c"/><text x="176.5" y="95.1" font-size="13.8" text-anchor="middle" textLength="6.2" lengthAdjust="spacingAndGlyphs" fill="#111" stroke="#111" stroke-width="0.3">3</text>
<circle cx="176.7" cy="349.0" r="5.8" fill="#fff" stroke="#2a2a2c" stroke-width="1"/><text x="176.7" y="353.9" font-size="13.8" text-anchor="middle" textLength="6.2" lengthAdjust="spacingAndGlyphs" fill="#1f1f21" stroke="#1f1f21" stroke-width="0.3">3</text>
<circle cx="147.7" cy="108.0" r="6.3999999999999995" fill="#4a4a4c"/><text x="147.7" y="112.8" font-size="13.8" text-anchor="middle" textLength="6.2" lengthAdjust="spacingAndGlyphs" fill="#111" stroke="#111" stroke-width="0.3">4</text>
<circle cx="147.7" cy="366.0" r="5.8" fill="#fff" stroke="#2a2a2c" stroke-width="1"/><text x="147.7" y="370.9" font-size="13.8" text-anchor="middle" textLength="6.2" lengthAdjust="spacingAndGlyphs" fill="#1f1f21" stroke="#1f1f21" stroke-width="0.3">4</text>
<circle cx="147.7" cy="138.8" r="5.8" fill="#fff" stroke="#2a2a2c" stroke-width="1"/><text x="147.7" y="143.7" font-size="13.8" text-anchor="middle" textLength="6.2" lengthAdjust="spacingAndGlyphs" fill="#1f1f21" stroke="#1f1f21" stroke-width="0.3">5</text>
<circle cx="147.7" cy="397.0" r="5.8" fill="#fff" stroke="#2a2a2c" stroke-width="1"/><text x="147.7" y="401.9" font-size="13.8" text-anchor="middle" textLength="6.2" lengthAdjust="spacingAndGlyphs" fill="#1f1f21" stroke="#1f1f21" stroke-width="0.3">5</text>
<circle cx="176.5" cy="156.7" r="5.8" fill="#fff" stroke="#2a2a2c" stroke-width="1"/><text x="176.5" y="161.5" font-size="13.8" text-anchor="middle" textLength="6.2" lengthAdjust="spacingAndGlyphs" fill="#1f1f21" stroke="#1f1f21" stroke-width="0.3">6</text>
<circle cx="176.8" cy="415.0" r="5.8" fill="#fff" stroke="#2a2a2c" stroke-width="1"/><text x="176.8" y="419.9" font-size="13.8" text-anchor="middle" textLength="6.2" lengthAdjust="spacingAndGlyphs" fill="#1f1f21" stroke="#1f1f21" stroke-width="0.3">6</text>
<text x="167.4" y="46.7" font-size="14.8" textLength="16.2" lengthAdjust="spacingAndGlyphs" fill="#1f1f21" stroke="#1f1f21" stroke-width="0.4">MS</text>
<text x="37.4" y="60.4" font-size="8.8" textLength="3.9" lengthAdjust="spacingAndGlyphs" fill="#1f1f21" stroke="#1f1f21" stroke-width="0.4">2</text>
<text x="42.7" y="64.8" font-size="14.8" textLength="7.3" lengthAdjust="spacingAndGlyphs" fill="#1f1f21" stroke="#1f1f21" stroke-width="0.4">D</text>
<text x="37.6" y="81.0" font-size="14.8" textLength="43.2" lengthAdjust="spacingAndGlyphs" fill="#1f1f21" stroke="#1f1f21" stroke-width="0.4">Detector</text>
<text x="37.6" y="109.0" font-size="8.8" textLength="3.5" lengthAdjust="spacingAndGlyphs" fill="#1f1f21" stroke="#1f1f21" stroke-width="0.4">1</text>
<text x="42.4" y="113.4" font-size="14.8" textLength="7.3" lengthAdjust="spacingAndGlyphs" fill="#1f1f21" stroke="#1f1f21" stroke-width="0.4">D</text>
<text x="37.5" y="130.0" font-size="14.8" textLength="43.2" lengthAdjust="spacingAndGlyphs" fill="#1f1f21" stroke="#1f1f21" stroke-width="0.4">Detector</text>
<text x="36.0" y="166.8" font-size="8.8" textLength="3.9" lengthAdjust="spacingAndGlyphs" fill="#1f1f21" stroke="#1f1f21" stroke-width="0.4">2</text>
<text x="41.3" y="171.3" font-size="14.8" textLength="41.0" lengthAdjust="spacingAndGlyphs" fill="#1f1f21" stroke="#1f1f21" stroke-width="0.4">D Pump</text>
<text x="35.8" y="357.9" font-size="14.8" textLength="69.2" lengthAdjust="spacingAndGlyphs" fill="#1f1f21" stroke="#1f1f21" stroke-width="0.4">Split Sampler</text>
<text x="35.6" y="395.5" font-size="8.8" textLength="3.5" lengthAdjust="spacingAndGlyphs" fill="#1f1f21" stroke="#1f1f21" stroke-width="0.4">1</text>
<text x="40.5" y="399.9" font-size="14.8" textLength="41.3" lengthAdjust="spacingAndGlyphs" fill="#1f1f21" stroke="#1f1f21" stroke-width="0.4">D Pump</text>
<text x="160.8" y="440.3" font-size="11.2" textLength="23.2" lengthAdjust="spacingAndGlyphs" fill="#1f1f21" stroke="#1f1f21" stroke-width="0.15">waste</text>
<text transform="translate(237.2 423.2) rotate(-90)" font-size="13.5" textLength="114.6" lengthAdjust="spacingAndGlyphs" fill="#1f1f21" stroke="#1f1f21" stroke-width="0.45">Column Compartment</text>
</g>
</svg>
</body></html>
